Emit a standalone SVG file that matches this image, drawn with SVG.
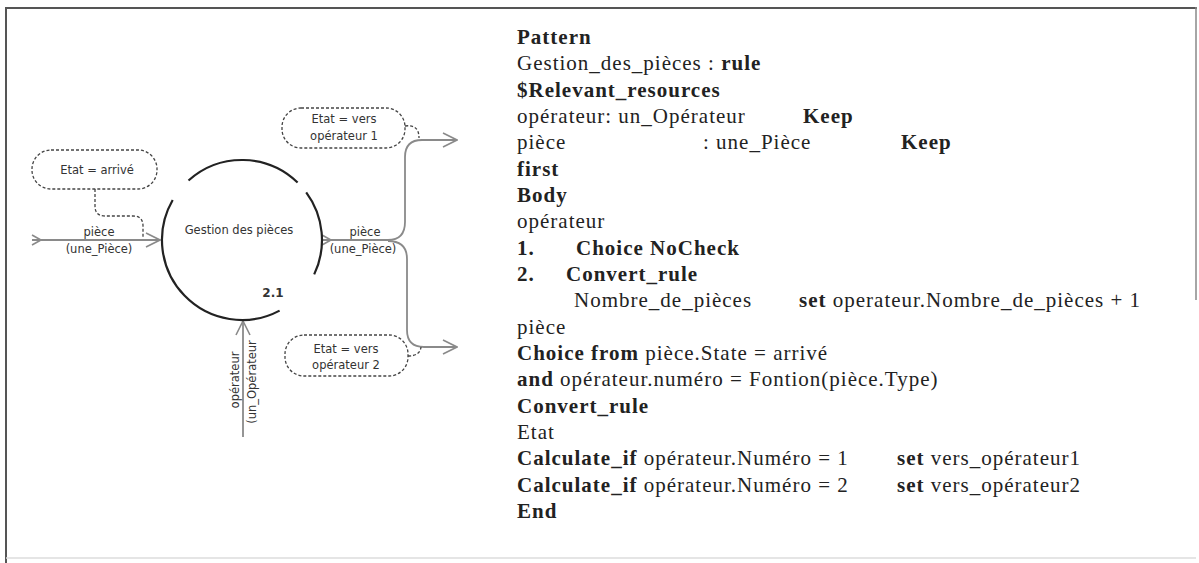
<svg xmlns="http://www.w3.org/2000/svg" width="1199" height="563" viewBox="0 0 1199 563">
<style>
.lbl{font-family:"DejaVu Sans",sans-serif;font-size:11.5px;fill:#333}
.num{font-family:"DejaVu Sans",sans-serif;font-size:12px;font-weight:bold;fill:#333}
.code{font-family:"Liberation Serif",serif;font-size:21px;letter-spacing:1px;fill:#222}
.b{font-weight:bold}
.arc{fill:none;stroke:#222;stroke-width:2.2}
.flow{fill:none;stroke:#8a8a8a;stroke-width:1.8}
.dbox{fill:none;stroke:#444;stroke-width:1.3;stroke-dasharray:3 2}
</style>
<defs>
<marker id="arr" viewBox="0 0 16 16" refX="15" refY="8" markerWidth="16" markerHeight="16" markerUnits="userSpaceOnUse" orient="auto">
<path d="M1,1 L15,8 L1,15" fill="none" stroke="#8a8a8a" stroke-width="1.6"/>
</marker>
<marker id="tail" viewBox="0 0 12 12" refX="1" refY="6" markerWidth="12" markerHeight="12" markerUnits="userSpaceOnUse" orient="auto">
<path d="M1,1 L10,6 L1,11" fill="none" stroke="#8a8a8a" stroke-width="1.6"/>
</marker>
</defs>
<rect width="1199" height="563" fill="#fff"/>
<g id="frame">
<line x1="6" y1="8" x2="1197" y2="8" stroke="#555" stroke-width="2"/>
<line x1="6" y1="7" x2="6" y2="563" stroke="#555" stroke-width="2"/>
<line x1="1196" y1="7" x2="1196" y2="300" stroke="#888" stroke-width="1.5"/>
<line x1="6" y1="558" x2="1196" y2="558" stroke="#ddd" stroke-width="1.5"/>
</g>
<g id="connectors">
<path class="flow" d="M32,240 L160,240" marker-start="url(#tail)" marker-end="url(#arr)"/>
<path class="flow" d="M322,240 L388,240 Q405,240 405,222 L405,157 Q405,140 422,140 L457,140" marker-start="url(#tail)" marker-end="url(#arr)"/>
<path class="flow" d="M388,241 Q407,241 407,259 L407,330 Q407,347 424,347 L457,347" marker-end="url(#arr)"/>
<path class="flow" d="M243,437 L243,321" marker-end="url(#arr)"/>
<path class="dbox" d="M95,189 L95,206 Q95,216 105,216 L133,216 Q143,216 143,226 L143,237"/>
<path class="dbox" d="M405,126 Q419,124 419,138"/>
<path class="dbox" d="M408,356 Q420,356 421,347"/>
</g>
<g id="flow-labels">
<text class="lbl" x="99" y="236" text-anchor="middle">pièce</text>
<text class="lbl" x="99" y="253" text-anchor="middle">(une_Pièce)</text>
<text class="lbl" x="365" y="236" text-anchor="middle">pièce</text>
<text class="lbl" x="363" y="253" text-anchor="middle">(une_Pièce)</text>
<text class="lbl" transform="translate(239,380) rotate(-90)" text-anchor="middle">opérateur</text>
<text class="lbl" transform="translate(256,382) rotate(-90)" text-anchor="middle">(un_Opérateur</text>
</g>
<g id="process">
<path class="arc" d="M297.6,182.5 A80,80 0 0 0 188.5,180.5"/>
<path class="arc" d="M314.2,274.4 A80,80 0 0 0 306.2,192.3"/>
<path class="arc" d="M172.7,200 A80,80 0 0 0 279.6,310.6"/>
<text class="lbl" x="239" y="234" text-anchor="middle">Gestion des pièces</text>
<text class="num" x="273" y="297" text-anchor="middle">2.1</text>
</g>
<g id="state-arrive">
<rect class="dbox" x="32" y="150" width="125" height="39" rx="19"/>
<text class="lbl" x="97" y="174" text-anchor="middle">Etat = arrivé</text>
</g>
<g id="state-op1">
<rect class="dbox" x="282" y="108" width="123" height="40" rx="19"/>
<text class="lbl" x="344" y="123" text-anchor="middle">Etat = vers</text>
<text class="lbl" x="344" y="140" text-anchor="middle">opérateur 1</text>
</g>
<g id="state-op2">
<rect class="dbox" x="285" y="335" width="123" height="41" rx="19"/>
<text class="lbl" x="346" y="353" text-anchor="middle">Etat = vers</text>
<text class="lbl" x="346" y="369" text-anchor="middle">opérateur 2</text>
</g>
<g id="rule-text" class="code">
<text x="517" y="44" class="b">Pattern</text>
<text x="517" y="70">Gestion_des_pièces : <tspan class="b">rule</tspan></text>
<text x="517" y="97" class="b">$Relevant_resources</text>
<text x="517" y="123">opérateur: un_Opérateur</text>
<text x="803" y="123" class="b">Keep</text>
<text x="517" y="149">pièce</text>
<text x="703" y="149">: une_Pièce</text>
<text x="901" y="149" class="b">Keep</text>
<text x="517" y="176" class="b">first</text>
<text x="517" y="202" class="b">Body</text>
<text x="517" y="228">opérateur</text>
<text x="517" y="255" class="b">1.</text>
<text x="576" y="255" class="b">Choice NoCheck</text>
<text x="517" y="281" class="b">2.</text>
<text x="566" y="281" class="b">Convert_rule</text>
<text x="574" y="307">Nombre_de_pièces</text>
<text x="799" y="307"><tspan class="b">set</tspan> operateur.Nombre_de_pièces + 1</text>
<text x="517" y="334">pièce</text>
<text x="517" y="360"><tspan class="b">Choice from</tspan> pièce.State = arrivé</text>
<text x="517" y="386"><tspan class="b">and</tspan> opérateur.numéro = Fontion(pièce.Type)</text>
<text x="517" y="413" class="b">Convert_rule</text>
<text x="517" y="439">Etat</text>
<text x="517" y="465"><tspan class="b">Calculate_if</tspan> opérateur.Numéro = 1</text>
<text x="897" y="465"><tspan class="b">set</tspan> vers_opérateur1</text>
<text x="517" y="492"><tspan class="b">Calculate_if</tspan> opérateur.Numéro = 2</text>
<text x="897" y="492"><tspan class="b">set</tspan> vers_opérateur2</text>
<text x="517" y="518" class="b">End</text>
</g>
</svg>
